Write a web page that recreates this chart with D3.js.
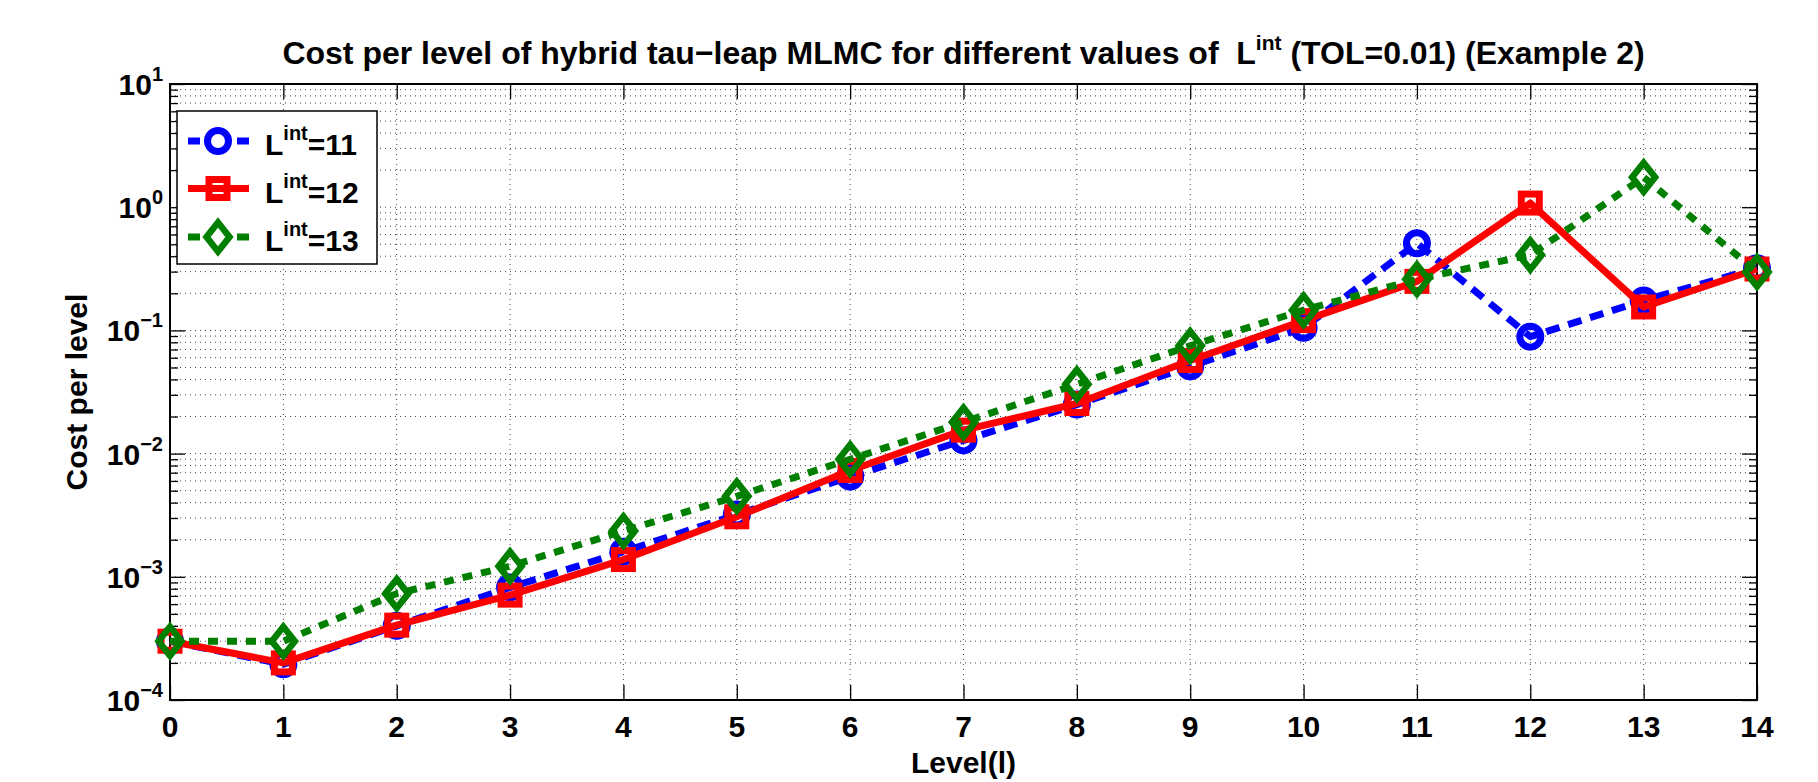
<!DOCTYPE html>
<html>
<head>
<meta charset="utf-8">
<script src="https://cdn.jsdelivr.net/npm/d3@7"></script>
<style>
  body { margin: 0; background: #fff; }
  text { font-family: "Liberation Sans", Arial, Helvetica, sans-serif; font-weight: bold; fill: #000; }
</style>
</head>
<body>
<div id="chart"></div>
<script>
// level index on the x axis
const levels = [0, 1, 2, 3, 4, 5, 6, 7, 8, 9, 10, 11, 12, 13, 14];

// cost per level, one array per value of L^int
const costL11 = [3.0e-4, 1.95e-4, 4.0e-4, 8.2e-4, 1.6e-3, 3.2e-3, 6.5e-3, 1.28e-2, 2.5e-2, 5.1e-2, 1.05e-1, 5.1e-1, 8.9e-2, 1.75e-1, 3.2e-1];
const costL12 = [3.0e-4, 2.0e-4, 4.05e-4, 7.1e-4, 1.38e-3, 3.07e-3, 7.3e-3, 1.55e-2, 2.55e-2, 5.7e-2, 1.2e-1, 2.5e-1, 1.08, 1.55e-1, 3.15e-1];
const costL13 = [3.0e-4, 3.0e-4, 7.3e-4, 1.22e-3, 2.35e-3, 4.5e-3, 9.0e-3, 1.8e-2, 3.65e-2, 7.5e-2, 1.46e-1, 2.6e-1, 4.1e-1, 1.75, 2.98e-1];

const seriesNames = ["11", "12", "13"];
const yTickValues = [1e-4, 1e-3, 1e-2, 1e-1, 1e0, 1e1];
const yTickExps = ["\u22124", "\u22123", "\u22122", "\u22121", "0", "1"];

const W = 1818, H = 782;
const margin = {top: 84, right: 61, bottom: 82, left: 170};
const width = W - margin.left - margin.right,
  height = H - margin.top - margin.bottom;

const svg = d3.select("#chart").append("svg")
  .attr("width", W)
  .attr("height", H);

const g = svg.append("g")
  .attr("transform", "translate(" + margin.left + "," + margin.top + ")");

const x = d3.scaleLinear().domain([0, 14]).range([0, width]);
const y = d3.scaleLog().domain([1e-4, 1e1]).range([height, 0]);

const minorTicks = y.ticks().filter(function (t) {
  return yTickValues.indexOf(t) < 0;
});

// dotted grid
const grid = g.append("g")
  .attr("stroke", "#444")
  .attr("stroke-width", 1)
  .attr("stroke-dasharray", "1,4");
grid.selectAll(".gx").data(levels.slice(1, -1)).enter().append("line")
  .attr("x1", d => x(d)).attr("x2", d => x(d))
  .attr("y1", 0).attr("y2", height);
grid.selectAll(".gy").data(y.ticks().filter(t => t > 1e-4 && t < 1e1)).enter().append("line")
  .attr("x1", 0).attr("x2", width)
  .attr("y1", d => y(d)).attr("y2", d => y(d));

// axes: ticks on all four sides, MATLAB box style
const axisStyle = function (sel) {
  sel.select(".domain").remove();
  sel.selectAll(".tick line").attr("stroke", "#000").attr("stroke-width", 1.3);
  sel.selectAll(".tick text").remove();
};

g.append("g").attr("transform", "translate(0," + height + ")")
  .call(d3.axisTop(x).tickValues(levels).tickSize(15)).call(axisStyle);
g.append("g")
  .call(d3.axisBottom(x).tickValues(levels).tickSize(15)).call(axisStyle);
g.append("g")
  .call(d3.axisRight(y).tickValues(yTickValues).tickSize(15)).call(axisStyle);
g.append("g")
  .call(d3.axisRight(y).tickValues(minorTicks).tickSize(8)).call(axisStyle);
g.append("g").attr("transform", "translate(" + width + ",0)")
  .call(d3.axisLeft(y).tickValues(yTickValues).tickSize(15)).call(axisStyle);
g.append("g").attr("transform", "translate(" + width + ",0)")
  .call(d3.axisLeft(y).tickValues(minorTicks).tickSize(8)).call(axisStyle);

g.append("rect")
  .attr("width", width).attr("height", height)
  .attr("fill", "none").attr("stroke", "#000").attr("stroke-width", 2);

// tick labels
g.selectAll(".xl").data(levels).enter().append("text")
  .attr("x", d => x(d)).attr("y", height + 37)
  .attr("text-anchor", "middle")
  .style("font-size", "30px")
  .text(d => d);

const yl = g.selectAll(".yl").data(yTickValues).enter().append("text")
  .attr("x", -7).attr("y", d => y(d) + 11)
  .attr("text-anchor", "end")
  .style("font-size", "30px");
yl.append("tspan").text("10");
yl.append("tspan").attr("dy", -14).style("font-size", "20px").text((d, i) => yTickExps[i]);

// titles
const title = svg.append("text")
  .attr("x", margin.left + width / 2).attr("y", 64)
  .attr("text-anchor", "middle")
  .style("font-size", "32px");
title.append("tspan").text("Cost per level of hybrid tau\u2212leap MLMC for different values of \u00a0L");
title.append("tspan").attr("dy", -14).style("font-size", "21px").text("int");
title.append("tspan").attr("dy", 14).text(" (TOL=0.01) (Example 2)");

svg.append("text")
  .attr("x", margin.left + width / 2).attr("y", 773)
  .attr("text-anchor", "middle")
  .style("font-size", "30px")
  .text("Level(l)");

svg.append("text")
  .attr("transform", "translate(87," + (margin.top + height / 2) + ") rotate(-90)")
  .attr("text-anchor", "middle")
  .style("font-size", "30px")
  .text("Cost per level");

// series
const series = [
  {name: seriesNames[0], values: costL11, color: "#0000ff", dash: "14,9", marker: "circle"},
  {name: seriesNames[1], values: costL12, color: "#ff0000", dash: null, marker: "square"},
  {name: seriesNames[2], values: costL13, color: "#007f00", dash: "10,9", marker: "diamond"}
];

const line = d3.line()
  .x(d => x(d[0]))
  .y(d => y(d[1]));

function drawMarker(sel, type, color) {
  if (type === "circle") {
    sel.append("circle").attr("r", 10.5)
      .attr("fill", "none").attr("stroke", color).attr("stroke-width", 7);
  } else if (type === "square") {
    sel.append("rect").attr("x", -9).attr("y", -9).attr("width", 18).attr("height", 18)
      .attr("fill", "none").attr("stroke", color).attr("stroke-width", 7);
  } else {
    sel.append("path").attr("d", "M0,-14.5L11.5,0L0,14.5L-11.5,0Z")
      .attr("fill", "none").attr("stroke", color).attr("stroke-width", 6.5)
      .attr("stroke-linejoin", "miter");
  }
}

series.forEach(function (s) {
  const pts = levels.map((l, i) => [l, s.values[i]]);
  g.append("path")
    .datum(pts)
    .attr("fill", "none")
    .attr("stroke", s.color)
    .attr("stroke-width", 7)
    .attr("stroke-dasharray", s.dash)
    .attr("stroke-linejoin", "round")
    .attr("d", line);
  g.selectAll(null).data(pts).enter().append("g")
    .attr("transform", d => "translate(" + x(d[0]) + "," + y(d[1]) + ")")
    .each(function () { drawMarker(d3.select(this), s.marker, s.color); });
});

// legend
const legend = svg.append("g").attr("transform", "translate(177,111)");
legend.append("rect")
  .attr("width", 200).attr("height", 153)
  .attr("fill", "#fff").attr("stroke", "#000").attr("stroke-width", 1.5);
const rowY = [30, 77.5, 126];
series.forEach(function (s, i) {
  const row = legend.append("g").attr("transform", "translate(0," + rowY[i] + ")");
  row.append("line")
    .attr("x1", 11).attr("x2", 72)
    .attr("stroke", s.color).attr("stroke-width", 7)
    .attr("stroke-dasharray", s.dash ? "12,49" : null);
  if (s.dash) {
    row.append("line")
      .attr("x1", 60).attr("x2", 72)
      .attr("stroke", s.color).attr("stroke-width", 7);
  }
  drawMarker(row.append("g").attr("transform", "translate(41,0)"), s.marker, s.color);
  const t = row.append("text").attr("x", 88).attr("y", 14).style("font-size", "30px");
  t.append("tspan").text("L");
  t.append("tspan").attr("dy", -15).style("font-size", "20px").text("int");
  t.append("tspan").attr("dy", 15).text("=" + s.name);
});
</script>
</body>
</html>
